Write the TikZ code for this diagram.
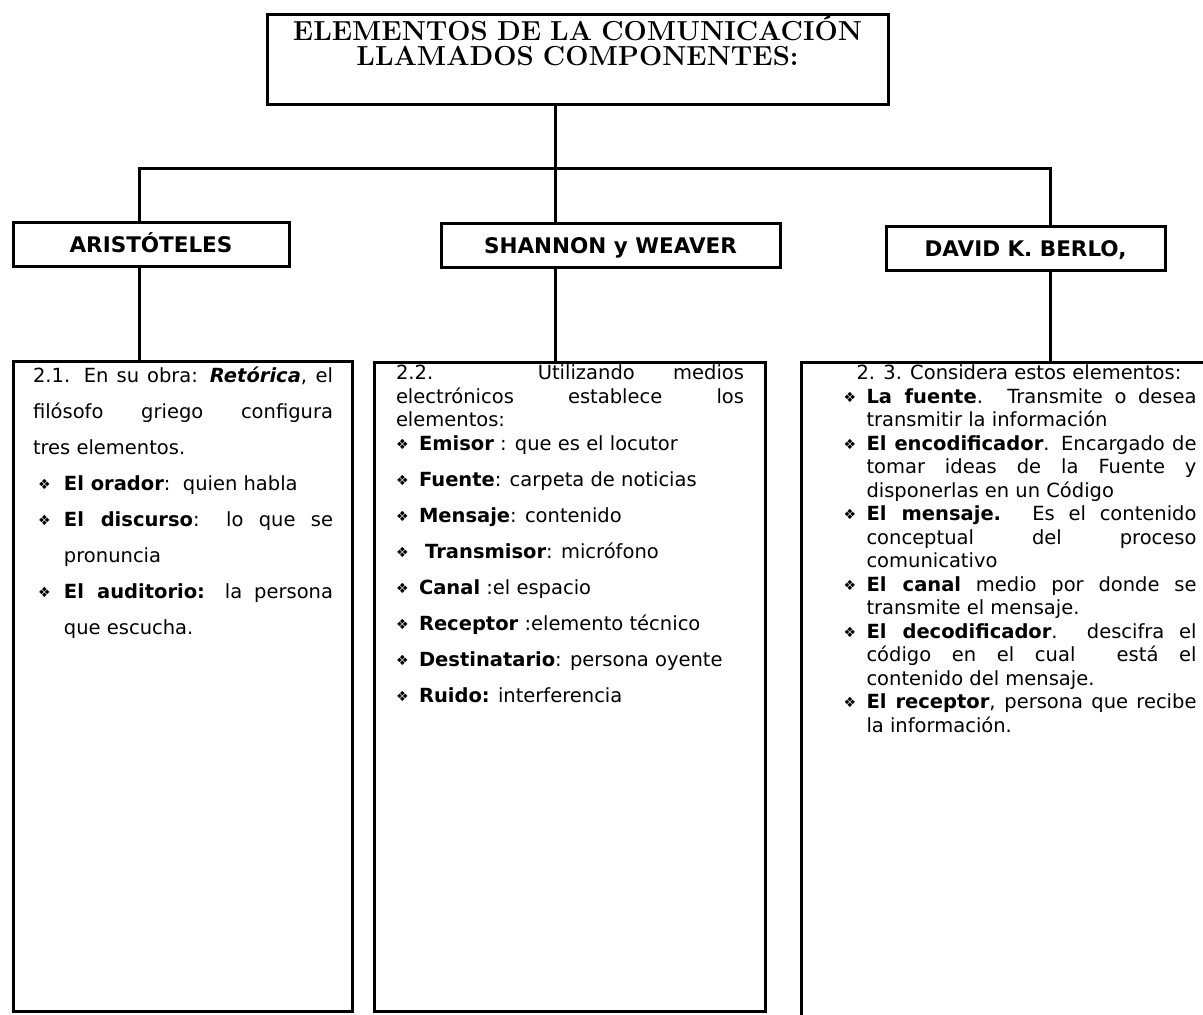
\documentclass[tikz,border=0pt]{standalone}
\usepackage{fontspec}
\usepackage{graphicx}
\newfontfamily\comic{DejaVu Sans}
\newcommand{\rombo}{\raisebox{1pt}{\scalebox{0.72}{❖}}}
\newcommand{\punto}[2]{\par\noindent\hangindent=#2\hangafter=1\hspace*{#1}\makebox[\dimexpr#2-#1\relax][l]{\rombo}}

\begin{document}
\begin{tikzpicture}[x=1pt,y=-1pt,
  titulo/.style={draw, line width=3pt, anchor=north, text width=600pt, align=center,
    inner xsep=10.5pt, inner ysep=4pt, text height=22pt, text depth=60pt,
    font=\rmfamily\bfseries\fontsize{27.5}{25}\selectfont},
  autor/.style={draw, line width=3pt, minimum height=44pt, inner sep=0pt,
    text height=15.7pt, text depth=0pt, font=\comic\bfseries\fontsize{21.5}{24}\selectfont},
  cuadro/.style={draw, line width=3pt, anchor=north west, align=justify,
    inner ysep=4pt, text height=13pt, font=\comic\fontsize{19.5}{23.5}\selectfont},
  enlace/.style={line width=3pt}]

% Marco de la figura
\path[use as bounding box, clip] (0,0) rectangle (1203,1015);

% Titulo
\node[titulo] (tit) at (577.5,13) {ELEMENTOS DE LA COMUNICACIÓN\\LLAMADOS COMPONENTES:};

% Autores
\node[autor, minimum width=276pt] (ari) at (151,244.5) {ARISTÓTELES};
\node[autor, minimum width=339pt] (sha) at (610.5,245.5) {SHANNON y WEAVER};
\node[autor, minimum width=279pt] (dav) at (1025.5,248.5) {DAVID K. BERLO,};

% Cuadros de texto
\node[cuadro, text width=300pt, inner xsep=19.5pt, inner ysep=7pt, text height=14pt,
  text depth=622pt, font=\comic\fontsize{19.5}{36}\selectfont] (izq) at (12,360) {%
  \noindent 2.1. En su obra: \textbf{\textit{Retórica}}, el\linebreak filósofo griego configura\linebreak tres elementos.
  \punto{5pt}{31pt}\textbf{El orador}:\ \ quien habla
  \punto{5pt}{31pt}\textbf{El discurso}: lo que se\linebreak pronuncia
  \punto{5pt}{31pt}\textbf{El auditorio:} la persona\linebreak que escucha.\par};

\node[cuadro, text width=348pt, inner xsep=21.5pt, text depth=628pt] (cen) at (373,361) {%
  \noindent 2.2. Utilizando medios\linebreak electrónicos establece los\linebreak elementos:
  \punto{0pt}{23pt}\textbf{Emisor} : que es el locutor\par
  \baselineskip=36pt
  \punto{0pt}{23pt}\textbf{Fuente}: carpeta de noticias
  \punto{0pt}{23pt}\textbf{Mensaje}: contenido
  \punto{0pt}{23pt}\ \textbf{Transmisor}: micrófono
  \punto{0pt}{23pt}\textbf{Canal} :el espacio
  \punto{0pt}{23pt}\textbf{Receptor} :elemento técnico
  \punto{0pt}{23pt}\textbf{Destinatario}: persona oyente
  \punto{0pt}{23pt}\textbf{Ruido:} interferencia\par};

\node[cuadro, text width=355pt, inner xsep=40pt, text depth=679pt] (der) at (800,361) {%
  \noindent\hspace*{15pt}2. 3. Considera estos elementos:
  \punto{2pt}{25pt}\textbf{La fuente}. Transmite o desea\linebreak transmitir la información
  \punto{2pt}{25pt}\textbf{El encodificador}. Encargado de\linebreak tomar ideas de la Fuente y\linebreak disponerlas en un Código
  \punto{2pt}{25pt}\textbf{El mensaje.} Es el contenido\linebreak conceptual del proceso\linebreak comunicativo
  \punto{2pt}{25pt}\textbf{El canal} medio por donde se\linebreak transmite el mensaje.
  \punto{2pt}{25pt}\textbf{El decodificador}.\ \ descifra el\linebreak código en el cual\ \ está el\linebreak contenido del mensaje.
  \punto{2pt}{25pt}\textbf{El receptor}, persona que recibe\linebreak la información.\par};

% Conectores
\coordinate (barra-i) at (139,168);
\coordinate (barra-c) at (555,168);
\coordinate (barra-d) at (1050,168);
\draw[enlace] (barra-i |- ari.north) -- (barra-i) -- (barra-d) -- (barra-d |- dav.north);
\draw[enlace] (tit.south -| barra-c) -- (barra-c |- sha.north);
\draw[enlace] (barra-i |- ari.south) -- (barra-i |- izq.north);
\draw[enlace] (barra-c |- sha.south) -- (barra-c |- cen.north);
\draw[enlace] (barra-d |- dav.south) -- (barra-d |- der.north);

\end{tikzpicture}
\end{document}
